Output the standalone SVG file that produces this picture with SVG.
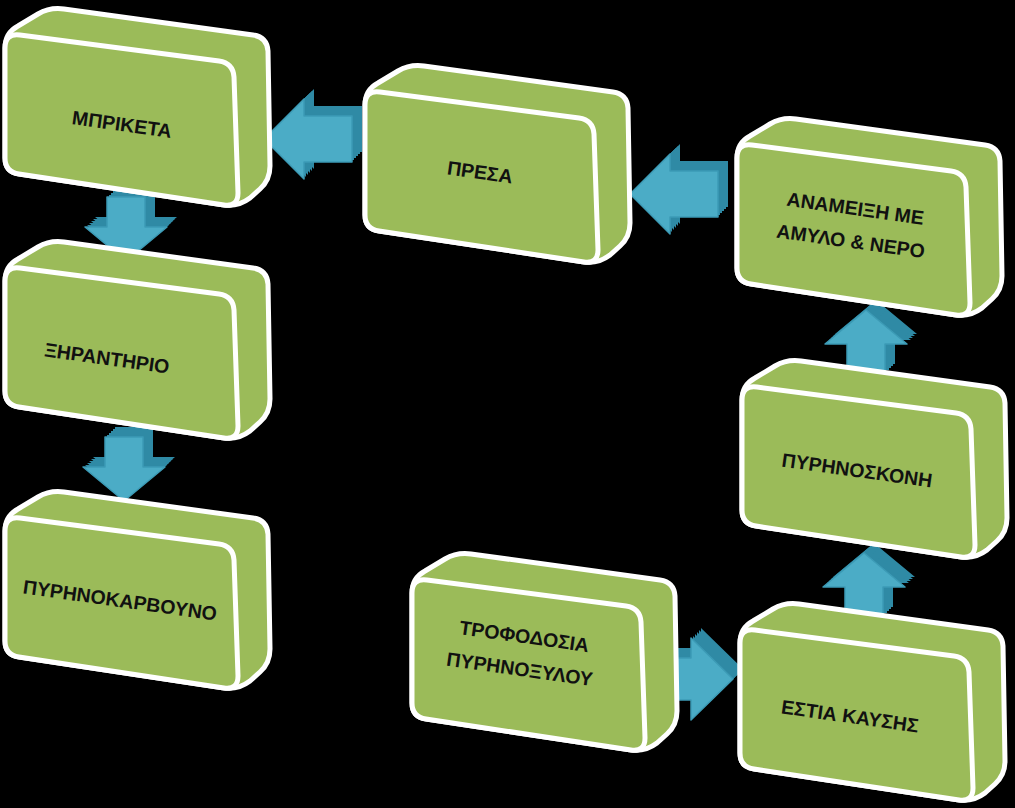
<svg xmlns="http://www.w3.org/2000/svg" xmlns:xlink="http://www.w3.org/1999/xlink" width="1015" height="808" viewBox="0 0 1015 808">
<style>
.sil{fill:#9BBB59;stroke:#FFFFFF;stroke-width:5;stroke-linejoin:round}
.front{fill:#9BBB59;stroke:#FFFFFF;stroke-width:5;stroke-linejoin:round}
.lbl{font-family:"Liberation Sans",Arial,sans-serif;font-weight:bold;font-size:19.5px;fill:#111111;text-anchor:middle;dominant-baseline:central}
.ext{fill:#2F8AA5}
.arr{fill:#4BACC6;stroke:#3C9BB6;stroke-width:1.5;stroke-linejoin:round}
</style>
<defs>
<g id="box">
<path class="sil" d="M5,48 Q5,33 18,26 L38,14 Q50,7 64,9 L253,35 Q267,37 268,51 L270,166 Q270,180 260,189 L250,198 Q238,207 224,205 L19,174 Q5,172 5,158 Z"/>
<path class="front" d="M5,48 Q5,33 20,35 L219,61 Q233,63 234,77 L238,193 Q238,207 224,205 L19,174 Q5,172 5,158 Z"/>
</g>
<path id="ah" d="M0,-23 L48,-23 L48,-40 L88,0 L48,40 L48,23 L0,23 Z"/>
<path id="av" d="M0,-19 L30,-19 L30,-41 L64,0 L30,41 L30,19 L0,19 Z"/>
<path id="as" d="M0,-21 L26,-21 L26,-41 L68,0 L26,41 L26,21 L0,21 Z"/>
</defs>
<rect width="1015" height="808" fill="#000000"/>

<g id="connectors">
<g id="c1">
<use href="#ah" class="ext" transform="translate(362,129) rotate(180)"/>
<use href="#ah" class="ext" transform="translate(360,131) rotate(180)"/>
<use href="#ah" class="ext" transform="translate(358,133) rotate(180)"/>
<use href="#ah" class="ext" transform="translate(356,135) rotate(180)"/>
<use href="#ah" class="ext" transform="translate(354,137) rotate(180)"/>
<use href="#ah" class="arr" transform="translate(352,139) rotate(180)"/>
</g>
<g id="c2">
<use href="#ah" class="ext" transform="translate(728,184) rotate(180)"/>
<use href="#ah" class="ext" transform="translate(726,186) rotate(180)"/>
<use href="#ah" class="ext" transform="translate(724,188) rotate(180)"/>
<use href="#ah" class="ext" transform="translate(722,190) rotate(180)"/>
<use href="#ah" class="ext" transform="translate(720,192) rotate(180)"/>
<use href="#ah" class="arr" transform="translate(718,194) rotate(180)"/>
</g>
<g id="c3">
<use href="#av" class="ext" transform="translate(136,187) rotate(90)"/>
<use href="#av" class="ext" transform="translate(134,189) rotate(90)"/>
<use href="#av" class="ext" transform="translate(132,191) rotate(90)"/>
<use href="#av" class="ext" transform="translate(130,193) rotate(90)"/>
<use href="#av" class="ext" transform="translate(128,195) rotate(90)"/>
<use href="#av" class="arr" transform="translate(126,197) rotate(90)"/>
</g>
<g id="c4">
<use href="#av" class="ext" transform="translate(134,427) rotate(90)"/>
<use href="#av" class="ext" transform="translate(132,429) rotate(90)"/>
<use href="#av" class="ext" transform="translate(130,431) rotate(90)"/>
<use href="#av" class="ext" transform="translate(128,433) rotate(90)"/>
<use href="#av" class="ext" transform="translate(126,435) rotate(90)"/>
<use href="#av" class="arr" transform="translate(124,437) rotate(90)"/>
</g>
<g id="c5">
<use href="#av" class="ext" transform="translate(876,364) rotate(-90)"/>
<use href="#av" class="ext" transform="translate(874,366) rotate(-90)"/>
<use href="#av" class="ext" transform="translate(872,368) rotate(-90)"/>
<use href="#av" class="ext" transform="translate(870,370) rotate(-90)"/>
<use href="#av" class="arr" transform="translate(866,374) rotate(-90)"/>
</g>
<g id="c6">
<use href="#av" class="ext" transform="translate(874,607) rotate(-90)"/>
<use href="#av" class="ext" transform="translate(872,609) rotate(-90)"/>
<use href="#av" class="ext" transform="translate(870,611) rotate(-90)"/>
<use href="#av" class="ext" transform="translate(868,613) rotate(-90)"/>
<use href="#av" class="arr" transform="translate(864,617) rotate(-90)"/>
</g>
<g id="c7">
<use href="#as" class="ext" transform="translate(675,669)"/>
<use href="#as" class="ext" transform="translate(673,671)"/>
<use href="#as" class="ext" transform="translate(671,673)"/>
<use href="#as" class="ext" transform="translate(669,675)"/>
<use href="#as" class="ext" transform="translate(667,677)"/>
<use href="#as" class="arr" transform="translate(665,679)"/>
</g>
</g>

<g id="n-briketa">
<use href="#box"/>
<text class="lbl" transform="translate(122,124) rotate(8)">ΜΠΡΙΚΕΤΑ</text>
</g>
<g id="n-presa">
<use href="#box" transform="translate(360,57)"/>
<text class="lbl" transform="translate(480,172) rotate(8)">ΠΡΕΣΑ</text>
</g>
<g id="n-anameixi">
<use href="#box" transform="translate(732,110)"/>
<text class="lbl" transform="translate(853,225) rotate(8)"><tspan x="0" y="-17">ΑΝΑΜΕΙΞΗ ΜΕ</tspan><tspan x="0" y="16">ΑΜΥΛΟ &amp; ΝΕΡΟ</tspan></text>
</g>
<g id="n-xirantirio">
<use href="#box" transform="translate(0,233)"/>
<text class="lbl" transform="translate(107,358) rotate(8)">ΞΗΡΑΝΤΗΡΙΟ</text>
</g>
<g id="n-pyrinokarvouno">
<use href="#box" transform="translate(0,483)"/>
<text class="lbl" transform="translate(120,600) rotate(8)">ΠΥΡΗΝΟΚΑΡΒΟΥΝΟ</text>
</g>
<g id="n-pyrinoskoni">
<use href="#box" transform="translate(737,352)"/>
<text class="lbl" transform="translate(857,470) rotate(8)">ΠΥΡΗΝΟΣΚΟΝΗ</text>
</g>
<g id="n-trofodosia">
<use href="#box" transform="translate(407,545)"/>
<text class="lbl" transform="translate(522,653) rotate(8)"><tspan x="0" y="-17">ΤΡΟΦΟΔΟΣΙΑ</tspan><tspan x="0" y="16">ΠΥΡΗΝΟΞΥΛΟΥ</tspan></text>
</g>
<g id="n-estia">
<use href="#box" transform="translate(735,595)"/>
<text class="lbl" transform="translate(850,716) rotate(8)">ΕΣΤΙΑ ΚΑΥΣΗΣ</text>
</g>
</svg>
